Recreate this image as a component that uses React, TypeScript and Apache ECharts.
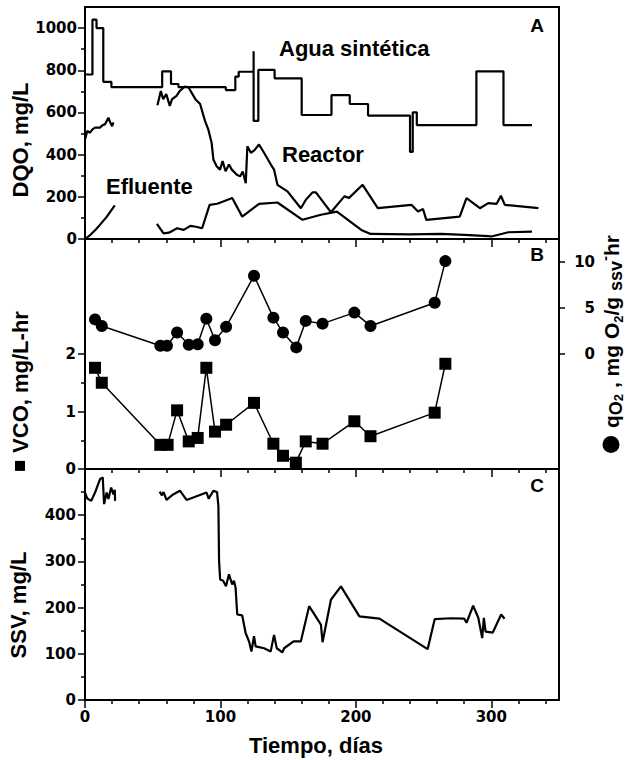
import React, { useEffect, useRef } from "react";
import * as echarts from "echarts";

// ---------- DATA (t in días) ----------
const aguaSintetica: number[][] = [
  [0, 780], [5.5, 780], [5.5, 1040], [8.5, 1040], [8.5, 1000], [13.5, 1000], [13.5, 745],
  [19.5, 745], [19.5, 720], [57, 720], [57, 795], [63.5, 795], [63.5, 735], [69, 735],
  [69, 720], [104, 720], [104, 706], [111, 706], [111, 770], [113.5, 770], [113.5, 793],
  [124.5, 793], [124.5, 890], [124.5, 560], [128, 560], [128, 802], [140, 802], [140, 762],
  [160, 762], [160, 588], [182, 588], [182, 682], [195.5, 682], [195.5, 640], [209, 640],
  [209, 585], [240, 585], [240, 413], [242, 413], [242, 600], [245, 600], [245, 540],
  [289, 540], [289, 795], [309, 795], [309, 540], [330, 540],
];
const reactorSeg1: number[][] = [
  [0, 472], [1.7, 512], [3.7, 504], [5.5, 520], [7.4, 528], [11, 528], [13, 540],
  [14.8, 544], [17.3, 575], [18.5, 555], [20, 535], [21, 553],
];
const reactorSeg2: number[][] = [
  [53.5, 634], [56, 702], [57.7, 663], [60, 687], [62.6, 631], [64.3, 663], [67.6, 679],
  [70, 702], [73.8, 723], [76.5, 718], [81.5, 663], [85, 640], [88.6, 560], [91, 520],
  [93.5, 456], [94.8, 377], [97.2, 345], [99.7, 329], [101.6, 369], [103.8, 321],
  [106.3, 353], [108.4, 329], [112.1, 305], [114.5, 297], [116.5, 320], [118.7, 265],
  [119.9, 440], [122.5, 409], [125, 420], [128.5, 448], [132.2, 409], [137.2, 353],
  [139.6, 329], [142.1, 257], [145.8, 241], [149.5, 226], [154.4, 186], [159.4, 146],
  [163.1, 186], [168, 221], [170.5, 221], [181.6, 127], [191.5, 202], [195, 195],
  [205, 257], [216.2, 146], [241, 162], [245.9, 130], [249.6, 142], [252, 91],
  [276.7, 106], [281.7, 194], [291.6, 146], [297.8, 170], [304, 167], [307.1, 205],
  [310, 162], [334.8, 146],
];
const efluenteSeg1: number[][] = [
  [0, 0], [4, 20], [8, 45], [11, 67], [16, 105], [22, 159],
];
const efluenteSeg2: number[][] = [
  [53.1, 72], [58, 27], [62, 30], [68, 51], [72.9, 43], [77.8, 62], [82, 58], [86.5, 51],
  [92, 162], [97.6, 167], [103, 180], [108.7, 194], [116.1, 106], [128.5, 167],
  [142.1, 173], [160.6, 91], [174.2, 115], [186, 130], [204, 43], [211, 24], [240, 22],
  [263, 24], [280, 20], [297.8, 14], [300, 12], [312.6, 32], [330, 35],
];
const qO2Data: number[][] = [
  [7.4, 3.76], [12.4, 3.05], [55.6, 0.9], [60.5, 0.9], [68, 2.33], [76.6, 1.0], [83.2, 1.05],
  [89.6, 3.84], [96, 1.5], [104.2, 2.95], [124.8, 8.5], [139.1, 3.95], [146.2, 2.33],
  [156, 0.72], [163, 3.6], [175.4, 3.3], [198.9, 4.5], [210.8, 3.05], [258.2, 5.57],
  [266.1, 10.1],
];
const vcoData: number[][] = [
  [7.4, 1.76], [12.4, 1.5], [55.6, 0.42], [61, 0.42], [68, 1.02], [76.6, 0.48], [83.2, 0.54],
  [89.6, 1.76], [96, 0.65], [104.2, 0.77], [124.8, 1.15], [139.1, 0.44], [146.2, 0.23],
  [155.7, 0.11], [163, 0.48], [175.4, 0.44], [198.9, 0.83], [210.8, 0.57], [258.2, 0.98],
  [266.1, 1.83],
];
const ssvSeg1: number[][] = [
  [0, 449], [1.7, 436], [4.6, 431], [7.4, 449], [11.1, 478], [13.1, 482], [14.1, 424],
  [16, 449], [17.3, 435], [19.3, 460], [21, 445], [22, 455], [22.2, 431],
];
const ssvSeg2: number[][] = [
  [55.1, 451], [56.8, 443], [58, 450], [60.2, 433], [65.1, 445], [70.1, 453], [75, 433],
  [89.8, 449], [91.3, 436], [94.8, 453], [97.5, 450], [98.5, 420], [99, 300], [99.8, 261],
  [102, 258], [104.1, 246], [106.3, 272], [108.7, 250], [110, 258], [111.2, 243],
  [112.4, 185], [116.1, 183], [118.6, 145], [121.1, 127], [122.9, 105], [124.8, 138],
  [126, 116], [132.2, 112], [137.1, 105], [139.6, 141], [141.6, 112], [145.8, 103],
  [147, 112], [154, 127], [159.4, 127], [165.5, 203], [174.2, 163], [175.4, 125],
  [181.6, 217], [189, 246], [202.6, 181], [217.4, 176], [253, 110], [258.2, 175],
  [270, 177], [280.1, 176], [281.7, 167], [286.6, 204], [290.4, 178], [293.3, 134],
  [294.5, 178], [295.8, 148], [301.1, 146], [307.3, 185], [309.8, 176],
];

// ---------- TICKS ----------
const xMajorTicks = [0, 100, 200, 300];
const xMinorTicks = [20, 40, 60, 80, 120, 140, 160, 180, 220, 240, 260, 280, 320, 340];
const dqoTicks = [0, 200, 400, 600, 800, 1000];
const dqoMinorTicks = [100, 300, 500, 700, 900];
const vcoTicks = [0, 1, 2];
const vcoMinorTicks = [0.5, 1.5];
const qo2Ticks = [0, 5, 10];
const ssvTicks = [0, 100, 200, 300, 400];
const ssvMinorTicks = [50, 150, 250, 350, 450];

const LABEL_FONT = '"Liberation Sans", Arial, sans-serif';
const TICK_FONT = '"DejaVu Sans", sans-serif';
const BLACK = "#000";

const plainNumber = (v: number) => String(v);

const tickLabel = (extra: any = {}) => ({
  color: BLACK,
  fontFamily: TICK_FONT,
  fontWeight: "bold",
  fontSize: 15,
  formatter: plainNumber,
  ...extra,
});

const xMain = (gridIndex: number, showLabels: boolean) => ({
  type: "value",
  gridIndex,
  min: 0,
  max: 350,
  interval: 20,
  position: "bottom",
  axisLine: { show: true, onZero: false, lineStyle: { color: BLACK, width: 2 } },
  axisTick: { show: true, customValues: xMinorTicks, length: 4, lineStyle: { color: BLACK, width: 1.5 } },
  axisLabel: { show: showLabels, customValues: xMajorTicks, margin: 9, ...tickLabel() },
  splitLine: { show: false },
});
const xMajor = (gridIndex: number) => ({
  type: "value",
  gridIndex,
  min: 0,
  max: 350,
  interval: 100,
  position: "bottom",
  axisLine: { show: false, onZero: false },
  axisTick: { show: true, customValues: xMajorTicks, length: 8, lineStyle: { color: BLACK, width: 1.5 } },
  axisLabel: { show: false },
  splitLine: { show: false },
});
const yMain = (gridIndex: number, min: number, max: number, interval: number, ticks: number[], margin: number) => ({
  type: "value",
  gridIndex,
  min,
  max,
  interval,
  position: "left",
  axisLine: { show: true, onZero: false, lineStyle: { color: BLACK, width: 2 } },
  axisTick: { show: true, customValues: ticks, length: 7, lineStyle: { color: BLACK, width: 1.5 } },
  axisLabel: { show: true, customValues: ticks, margin, ...tickLabel() },
  splitLine: { show: false },
});
const yMinor = (gridIndex: number, min: number, max: number, interval: number, ticks: number[]) => ({
  type: "value",
  gridIndex,
  min,
  max,
  interval,
  position: "left",
  axisLine: { show: false, onZero: false },
  axisTick: { show: true, customValues: ticks, length: 4, lineStyle: { color: BLACK, width: 1.5 } },
  axisLabel: { show: false },
  splitLine: { show: false },
});

const plainLine = (data: number[][], xAxisIndex: number, yAxisIndex: number) => ({
  type: "line",
  data,
  xAxisIndex,
  yAxisIndex,
  showSymbol: false,
  symbol: "none",
  lineStyle: { color: BLACK, width: 2.2 },
  silent: true,
});

const boldText = (size: number) => `bold ${size}px ${LABEL_FONT}`;

const textStyle = (text: string, size: number, align: string) => ({
  text,
  font: boldText(size),
  fill: BLACK,
  textAlign: align,
  textVerticalAlign: "middle",
  align,
  verticalAlign: "middle",
});

export default function App() {
  const ref = useRef<HTMLDivElement>(null);
  useEffect(() => {
    if (!ref.current) return;
    const chart = echarts.init(ref.current, null, { renderer: "svg" });
    const gridBase = { left: 85, width: 474, show: true, borderColor: BLACK, borderWidth: 2, backgroundColor: "transparent" };
    const option: any = {
      animation: false,
      backgroundColor: "#fff",
      grid: [
        { ...gridBase, top: 7, height: 232 },
        { ...gridBase, top: 239, height: 230 },
        { ...gridBase, top: 469, height: 231 },
      ],
      xAxis: [xMain(0, false), xMajor(0), xMain(1, false), xMajor(1), xMain(2, true), xMajor(2)],
      yAxis: [
        yMain(0, 0, 1100, 100, dqoTicks, 8),
        yMinor(0, 0, 1100, 100, dqoMinorTicks),
        yMain(1, 0, 4, 0.5, vcoTicks, 9),
        yMinor(1, 0, 4, 0.5, vcoMinorTicks),
        {
          type: "value",
          gridIndex: 1,
          min: -12.5,
          max: 12.5,
          interval: 2.5,
          position: "right",
          axisLine: { show: true, onZero: false, lineStyle: { color: BLACK, width: 2 } },
          axisTick: { show: true, customValues: qo2Ticks, length: 6, lineStyle: { color: BLACK, width: 1.5 } },
          axisLabel: { show: true, customValues: qo2Ticks, margin: 36, align: "right", ...tickLabel() },
          splitLine: { show: false },
        },
        yMain(2, 0, 500, 50, ssvTicks, 9),
        yMinor(2, 0, 500, 50, ssvMinorTicks),
      ],
      series: [
        plainLine(aguaSintetica, 0, 0),
        plainLine(reactorSeg1, 0, 0),
        plainLine(reactorSeg2, 0, 0),
        plainLine(efluenteSeg1, 0, 0),
        plainLine(efluenteSeg2, 0, 0),
        {
          type: "line",
          data: qO2Data,
          xAxisIndex: 2,
          yAxisIndex: 4,
          symbol: "circle",
          symbolSize: 12,
          showSymbol: true,
          itemStyle: { color: BLACK },
          lineStyle: { color: BLACK, width: 1.5 },
        },
        {
          type: "line",
          data: vcoData,
          xAxisIndex: 2,
          yAxisIndex: 2,
          symbol: "rect",
          symbolSize: 12,
          showSymbol: true,
          itemStyle: { color: BLACK },
          lineStyle: { color: BLACK, width: 1.5 },
        },
        plainLine(ssvSeg1, 4, 5),
        plainLine(ssvSeg2, 4, 5),
      ],
      graphic: [
        { type: "text", x: 279, y: 48, style: textStyle("Agua sintética", 22, "left") },
        { type: "text", x: 282, y: 154, style: textStyle("Reactor", 22, "left") },
        { type: "text", x: 106, y: 186, style: textStyle("Efluente", 22, "left") },
        { type: "text", x: 537, y: 25, style: textStyle("A", 19, "center") },
        { type: "text", x: 537, y: 254, style: textStyle("B", 19, "center") },
        { type: "text", x: 537, y: 485, style: textStyle("C", 19, "center") },
        { type: "text", x: 316, y: 745, style: textStyle("Tiempo, días", 22, "center") },
        { type: "text", x: 20, y: 140, rotation: Math.PI / 2, style: textStyle("DQO, mg/L", 22, "center") },
        { type: "text", x: 18, y: 605, rotation: Math.PI / 2, style: textStyle("SSV, mg/L", 22, "center") },
        {
          type: "text",
          x: 20,
          y: 391,
          rotation: Math.PI / 2,
          style: {
            ...textStyle("{sq| }{gap| }{n|VCO, mg/L-hr}", 22, "center"),
            rich: {
              sq: { width: 10, height: 10, backgroundColor: BLACK },
              gap: { width: 8 },
              n: { font: boldText(22), fill: BLACK, color: BLACK },
            },
          },
        },
        {
          type: "text",
          x: 611,
          y: 344,
          rotation: Math.PI / 2,
          style: {
            ...textStyle("{dot| }{gap| }{n|q}{s|O}{ss|2}{n| , mg O}{ss|2}{n|/g }{s|ssv}{sup|-}{n|hr}", 21, "center"),
            rich: {
              dot: { width: 17, height: 17, backgroundColor: BLACK, borderRadius: 8.5 },
              gap: { width: 8 },
              n: { font: boldText(21), fill: BLACK, color: BLACK, lineHeight: 28 },
              s: { font: boldText(18), fill: BLACK, color: BLACK, lineHeight: 18, verticalAlign: "bottom" },
              ss: { font: boldText(13), fill: BLACK, color: BLACK, lineHeight: 13, verticalAlign: "bottom" },
              sup: { font: boldText(15), fill: BLACK, color: BLACK, lineHeight: 15, verticalAlign: "top" },
            },
          },
        },
      ],
    };
    chart.setOption(option);
    return () => chart.dispose();
  }, []);
  return <div ref={ref} style={{ position: "fixed", left: 0, top: 0, width: 630, height: 760, background: "#fff" }} />;
}
